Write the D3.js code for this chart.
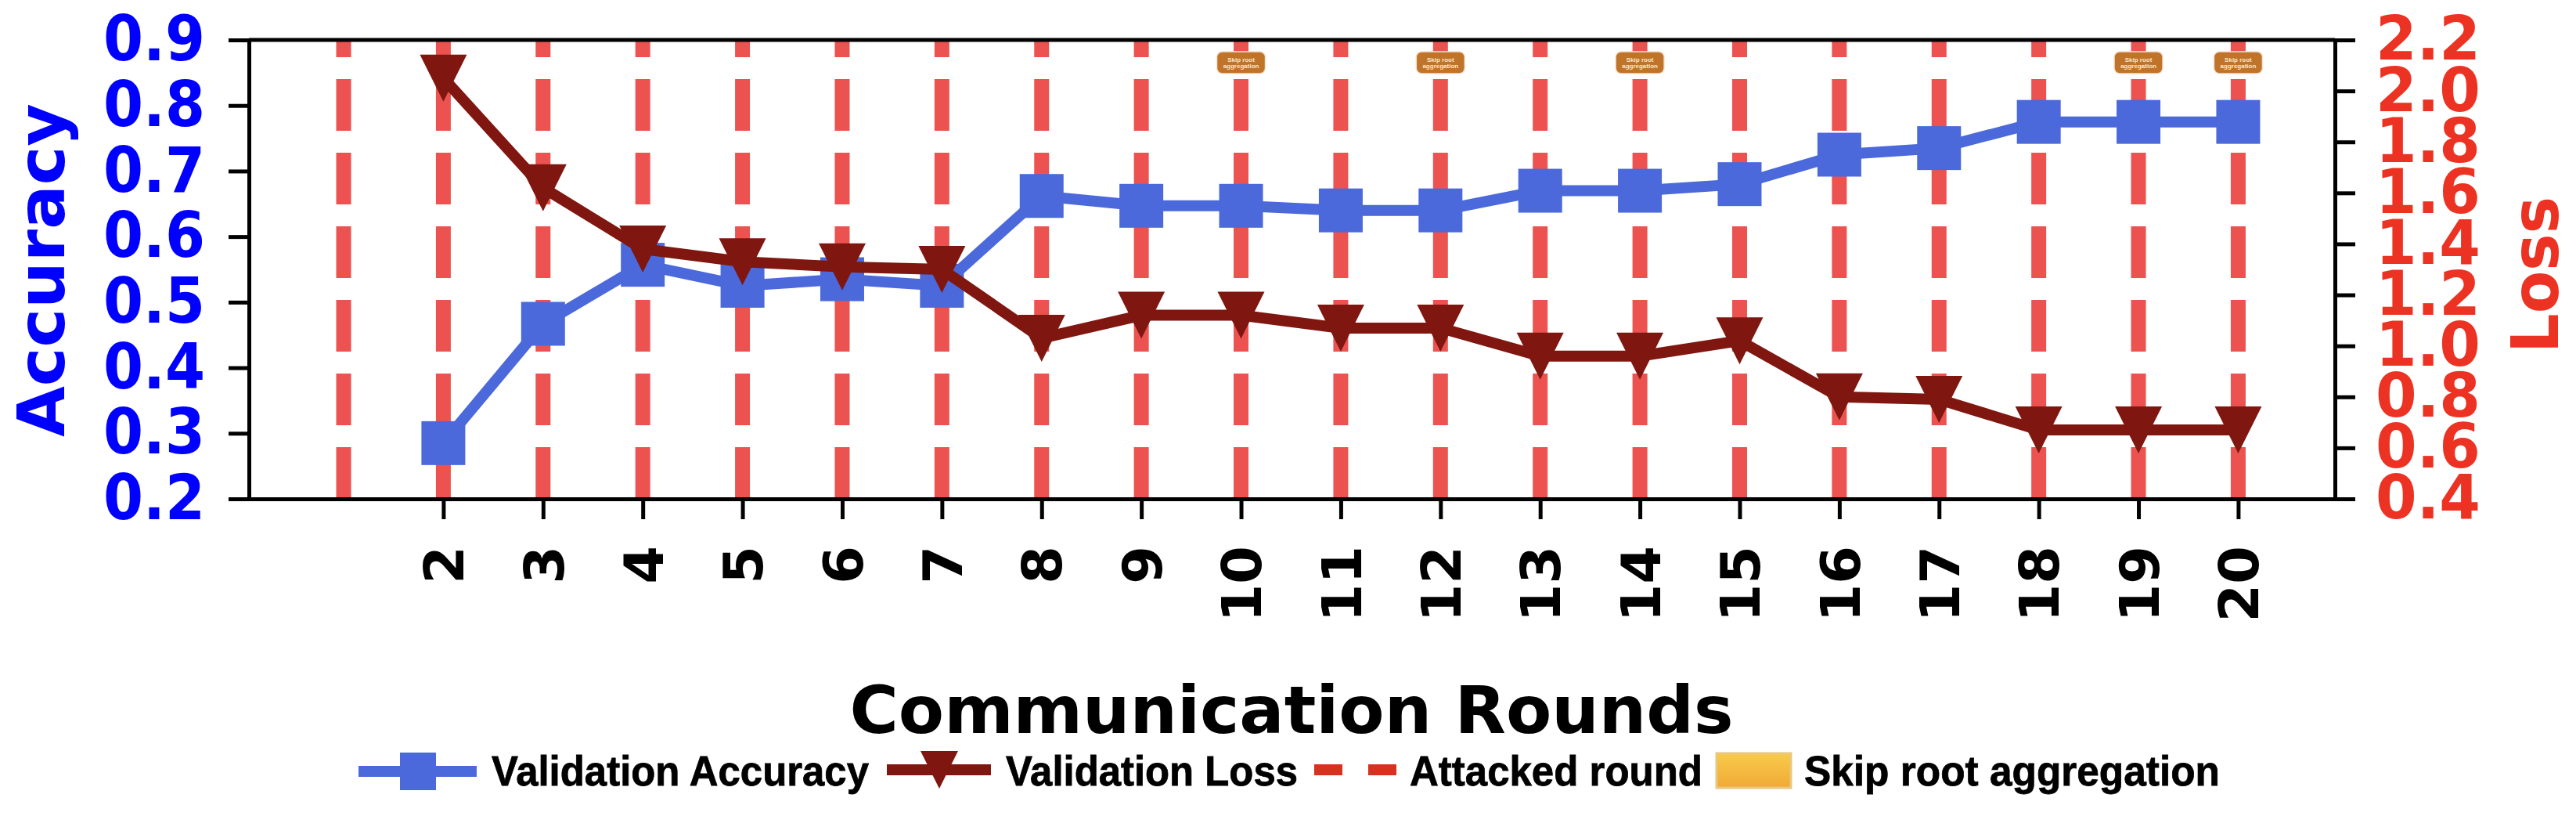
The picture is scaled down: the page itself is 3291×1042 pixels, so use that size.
<!DOCTYPE html>
<html>
<head>
<meta charset="utf-8">
<script src="https://cdn.jsdelivr.net/npm/d3@7"></script>
<style>
  html, body { margin: 0; padding: 0; background: #fff; }
  svg { display: block; font-family: "DejaVu Sans", sans-serif; font-weight: bold; }
  .axis { font-family: "DejaVu Sans", sans-serif; }
  .axis path, .axis line { stroke: #000; stroke-width: 5px; }
  .legend text { font-family: "Liberation Sans", sans-serif; font-size: 54px; fill: #000; stroke: #000; stroke-width: 0.8px; }
</style>
</head>
<body>
<div id="chart"></div>
<script>
const rounds = [2, 3, 4, 5, 6, 7, 8, 9, 10, 11, 12, 13, 14, 15, 16, 17, 18, 19, 20];
const accuracy = [0.285, 0.467, 0.557, 0.525, 0.535, 0.525, 0.662, 0.647, 0.647, 0.64, 0.64, 0.67, 0.67, 0.68, 0.725, 0.735, 0.775, 0.775, 0.775];
const loss = [2.05, 1.62, 1.38, 1.33, 1.31, 1.30, 1.03, 1.12, 1.12, 1.07, 1.07, 0.96, 0.96, 1.02, 0.80, 0.79, 0.67, 0.67, 0.67];
const attackedRounds = [1, 2, 3, 4, 5, 6, 7, 8, 9, 10, 11, 12, 13, 14, 15, 16, 17, 18, 19, 20];
const skipRounds = [10, 12, 14, 19, 20];
const accuracyTicks = [0.2, 0.3, 0.4, 0.5, 0.6, 0.7, 0.8, 0.9];
const lossTicks = [0.4, 0.6, 0.8, 1.0, 1.2, 1.4, 1.6, 1.8, 2.0, 2.2];

const width = 3291, height = 1042;
const margin = { top: 51, right: 308, bottom: 405, left: 318 };
const blue = "#4b69db", darkRed = "#7f1710", dashRed = "#ec5350", tickBlue = "#0000ff", tickRed = "#ec3323";

const svg = d3.select("#chart").append("svg")
    .attr("width", width)
    .attr("height", height);

// x(1) sits at 439 and x(20) at 2859 in the reference
const x = d3.scaleLinear().domain([0.05, 20.97]).range([margin.left, width - margin.right]);
const yAcc = d3.scaleLinear().domain([0.2, 0.9]).range([height - margin.bottom, margin.top]);
const yLoss = d3.scaleLinear().domain([0.4, 2.2]).range([height - margin.bottom, margin.top]);

// Attacked rounds, dashes start from the bottom
svg.append("g").selectAll("line")
    .data(attackedRounds)
    .enter().append("line")
    .attr("x1", d => x(d))
    .attr("x2", d => x(d))
    .attr("y1", yAcc(0.2))
    .attr("y2", yAcc(0.9))
    .attr("stroke", dashRed)
    .attr("stroke-width", 19)
    .attr("stroke-dasharray", "66 28");

// Axes
const axisLeft = svg.append("g")
    .attr("class", "axis")
    .attr("transform", `translate(${margin.left},0)`)
    .call(d3.axisLeft(yAcc).tickValues(accuracyTicks).tickFormat(d3.format(".1f")).tickSize(26).tickSizeOuter(26).tickPadding(30));
axisLeft.attr("font-family", null);
axisLeft.selectAll("text")
    .attr("fill", tickBlue)
    .style("font-size", "80px")
    .attr("textLength", 130)
    .attr("lengthAdjust", "spacingAndGlyphs");

const axisRight = svg.append("g")
    .attr("class", "axis")
    .attr("transform", `translate(${width - margin.right},0)`)
    .call(d3.axisRight(yLoss).tickValues(lossTicks).tickFormat(d3.format(".1f")).tickSize(26).tickSizeOuter(26).tickPadding(26));
axisRight.attr("font-family", null);
axisRight.selectAll("text")
    .attr("fill", tickRed)
    .style("font-size", "78px")
    .attr("textLength", 134)
    .attr("lengthAdjust", "spacingAndGlyphs");

const axisBottom = svg.append("g")
    .attr("class", "axis")
    .attr("transform", `translate(0,${height - margin.bottom})`)
    .call(d3.axisBottom(x).tickValues(rounds).tickFormat(d3.format("d")).tickSize(26).tickSizeOuter(0));
axisBottom.attr("font-family", null);
axisBottom.selectAll("text")
    .attr("fill", "#000")
    .style("font-size", "70px")
    .style("text-anchor", "end")
    .attr("transform", "rotate(-90)")
    .attr("x", -60)
    .attr("y", 0)
    .attr("dy", "0.36em");

svg.append("line")
    .attr("x1", margin.left).attr("x2", width - margin.right)
    .attr("y1", margin.top).attr("y2", margin.top)
    .attr("stroke", "#000").attr("stroke-width", 5);

// Series
const triangle = s => `M${-s / 2},${-s / 2}L${s / 2},${-s / 2}L0,${s / 2}Z`;

const accLine = d3.line().x((d, i) => x(rounds[i])).y(d => yAcc(d));
const lossLine = d3.line().x((d, i) => x(rounds[i])).y(d => yLoss(d));

svg.append("path").datum(accuracy)
    .attr("d", accLine)
    .attr("fill", "none").attr("stroke", blue).attr("stroke-width", 14);
svg.append("g").selectAll("rect")
    .data(accuracy)
    .enter().append("rect")
    .attr("x", (d, i) => x(rounds[i]) - 28)
    .attr("y", d => yAcc(d) - 28)
    .attr("width", 56).attr("height", 56)
    .attr("fill", blue);

svg.append("path").datum(loss)
    .attr("d", lossLine)
    .attr("fill", "none").attr("stroke", darkRed).attr("stroke-width", 14);
svg.append("g").selectAll("path")
    .data(loss)
    .enter().append("path")
    .attr("d", triangle(60))
    .attr("transform", (d, i) => `translate(${x(rounds[i])},${yLoss(d)})`)
    .attr("fill", darkRed);

// Skip root aggregation badges
const badges = svg.append("g").selectAll("g")
    .data(skipRounds)
    .enter().append("g")
    .attr("transform", d => `translate(${x(d)},80)`);
badges.append("rect")
    .attr("x", -31).attr("y", -14).attr("width", 62).attr("height", 28).attr("rx", 7)
    .attr("fill", "#c0742a").attr("stroke", "#f3e3d2").attr("stroke-width", 1.5);
badges.selectAll("text")
    .data(["Skip root", "aggregation"])
    .enter().append("text")
    .attr("y", (d, i) => i * 8 - 1.5)
    .attr("text-anchor", "middle")
    .attr("font-family", "Liberation Sans, sans-serif")
    .attr("font-size", 8)
    .attr("fill", "#fbe6c8")
    .text(d => d);

// Axis titles
svg.append("text")
    .attr("transform", "translate(82,345) rotate(-90)")
    .attr("text-anchor", "middle")
    .attr("fill", tickBlue)
    .style("font-size", "84px")
    .attr("textLength", 426)
    .attr("lengthAdjust", "spacingAndGlyphs")
    .text("Accuracy");

svg.append("text")
    .attr("transform", "translate(3268,351) rotate(-90)")
    .attr("text-anchor", "middle")
    .attr("fill", tickRed)
    .style("font-size", "84px")
    .attr("textLength", 200)
    .attr("lengthAdjust", "spacingAndGlyphs")
    .text("Loss");

svg.append("text")
    .attr("x", 1650)
    .attr("y", 936)
    .attr("text-anchor", "middle")
    .attr("fill", "#000")
    .style("font-size", "84px")
    .attr("textLength", 1129)
    .attr("lengthAdjust", "spacingAndGlyphs")
    .text("Communication Rounds");

// Legend
const defs = svg.append("defs");
const skipFill = defs.append("linearGradient").attr("id", "skipFill").attr("x1", 0).attr("x2", 0).attr("y1", 0).attr("y2", 1);
skipFill.append("stop").attr("offset", "0%").attr("stop-color", "#f8cb4a");
skipFill.append("stop").attr("offset", "100%").attr("stop-color", "#f0a936");

const legend = svg.append("g").attr("class", "legend");
const legendY = 985;

legend.append("line").attr("x1", 458).attr("x2", 609).attr("y1", legendY).attr("y2", legendY)
    .attr("stroke", blue).attr("stroke-width", 14);
legend.append("rect").attr("x", 511).attr("y", legendY - 24).attr("width", 46).attr("height", 48).attr("fill", blue);

legend.append("line").attr("x1", 1133).attr("x2", 1266).attr("y1", legendY - 2).attr("y2", legendY - 2)
    .attr("stroke", darkRed).attr("stroke-width", 14);
legend.append("path").attr("d", "M-24,-24L24,-24L0,24Z")
    .attr("transform", `translate(1200,${legendY - 2})`)
    .attr("fill", darkRed);

legend.append("line").attr("x1", 1679).attr("x2", 1784).attr("y1", legendY - 2).attr("y2", legendY - 2)
    .attr("stroke", "#d6321f").attr("stroke-width", 14)
    .attr("stroke-dasharray", "36 33");

legend.append("rect").attr("x", 2193).attr("y", legendY - 23).attr("width", 95).attr("height", 44)
    .attr("fill", "url(#skipFill)").attr("stroke", "#e9c77e").attr("stroke-width", 3);

const legendLabels = ["Validation Accuracy", "Validation Loss", "Attacked round", "Skip root aggregation"];
const legendStart = [628, 1285, 1801, 2305];
const legendLength = [482, 373, 374, 531];
legend.selectAll("text")
    .data(legendLabels)
    .enter().append("text")
    .attr("x", (d, i) => legendStart[i])
    .attr("y", legendY + 18)
    .attr("textLength", (d, i) => legendLength[i])
    .attr("lengthAdjust", "spacingAndGlyphs")
    .text(d => d);
</script>
</body>
</html>
